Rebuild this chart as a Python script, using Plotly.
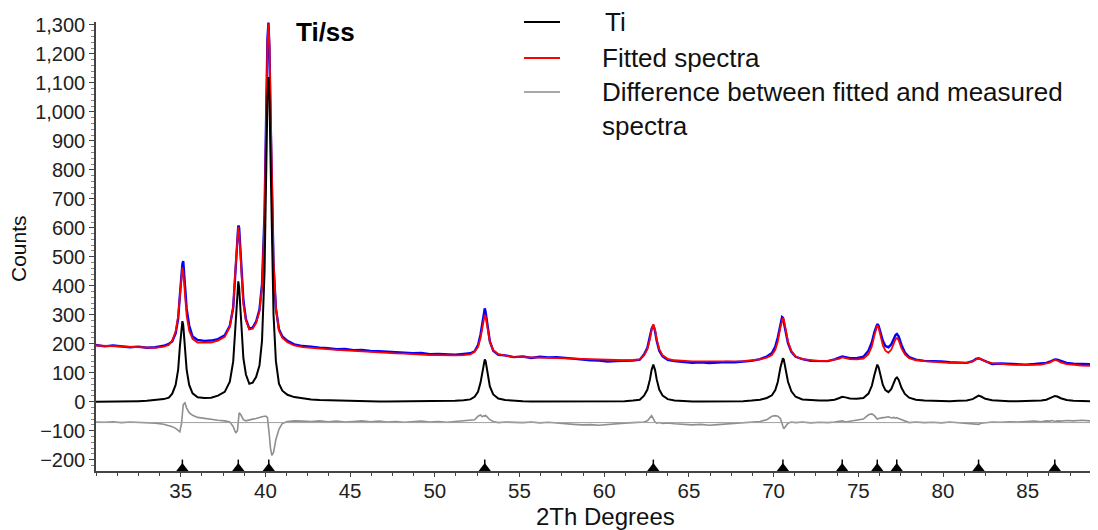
import plotly.graph_objects as go

# 2-theta grid (degrees), denser around the Ti reflections
two_theta = [
    30, 30.5, 31, 31.5, 32, 32.5, 33, 33.5, 34, 34.3,
    34.5, 34.7, 34.85, 34.95, 35.05, 35.1, 35.15, 35.25, 35.35, 35.5, 35.7, 36.0, 36.4, 36.8, 37.2,
    37.6, 37.9, 38.1, 38.25, 38.35, 38.4, 38.45, 38.55, 38.7, 38.85, 39.05, 39.25,
    39.45, 39.65, 39.8, 39.95, 40.05, 40.12, 40.18, 40.24, 40.3, 40.38, 40.48, 40.62, 40.8, 41.0, 41.3, 41.7, 42.2,
    42.7, 43.2, 43.7, 44.2, 44.7, 45.2, 45.7, 46.2, 46.7, 47.2, 47.7, 48.2, 48.7, 49.2, 49.7, 50.2, 50.7, 51.2, 51.7, 52.1,
    52.35, 52.55, 52.7, 52.8, 52.9, 52.95, 53.0, 53.1, 53.25, 53.45, 53.75, 54.15, 54.65,
    55.2, 55.7, 56.2, 56.7, 57.2, 57.7, 58.2, 58.7, 59.2, 59.7, 60.2, 60.7, 61.2, 61.7, 62.1,
    62.35, 62.55, 62.7, 62.8, 62.9, 63.0, 63.1, 63.25, 63.45, 63.75, 64.15, 64.65,
    65.2, 65.7, 66.2, 66.7, 67.2, 67.7, 68.2, 68.7, 69.2, 69.6,
    69.9, 70.1, 70.25, 70.4, 70.5, 70.55, 70.6, 70.7, 70.85, 71.05, 71.3, 71.7, 72.2, 72.7,
    73.2, 73.6, 73.85, 74.05, 74.25, 74.5, 74.9, 75.3,
    75.6, 75.8, 75.95, 76.05, 76.12, 76.2, 76.3, 76.45, 76.6, 76.78, 76.95, 77.1, 77.2, 77.28, 77.38, 77.55, 77.75, 78.0, 78.4, 78.9,
    79.4, 79.9, 80.4, 80.9, 81.4,
    81.75, 81.95, 82.1, 82.25, 82.5, 82.9,
    83.4, 83.9, 84.4, 84.9, 85.4, 85.8, 86.1,
    86.3, 86.45, 86.6, 86.75, 86.95, 87.3, 87.7,
    88.2, 88.7, 89.15,
]

ti_counts = [
    0, 0, 0, 0, 1, 2, 3, 5, 9, 14,
    28, 58, 111, 189, 264, 278, 264, 189, 111, 58, 29, 15, 13, 14, 21,
    34, 69, 139, 285, 394, 415, 395, 291, 150, 94, 62, 66,
    85, 125, 210, 450, 812, 1047, 1120, 1046, 850, 540, 300, 140, 62, 38, 24, 16, 11,
    8, 6, 5, 4, 3, 2, 2, 1, 1, 1, 1, 1, 1, 1, 1, 2, 2, 3, 5, 8,
    17, 34, 66, 102, 140, 146, 140, 102, 53, 25, 11, 6, 3,
    2, 1, 1, 1, 1, 1, 1, 1, 1, 1, 1, 2, 2, 4, 7,
    21, 42, 77, 110, 128, 110, 77, 42, 21, 9, 4, 2,
    1, 1, 1, 1, 1, 2, 2, 4, 7, 13,
    22, 40, 69, 117, 146, 150, 146, 117, 69, 36, 17, 8, 5, 4,
    4, 7, 12, 17, 15, 11, 10, 13,
    28, 55, 92, 120, 128, 119, 92, 58, 40, 33, 44, 66, 80, 84, 76, 48, 27, 14, 7, 4,
    3, 2, 2, 3, 4,
    9, 16, 21, 18, 10, 5,
    3, 2, 2, 2, 3, 4, 7,
    11, 16, 20, 18, 12, 6, 3,
    2, 1, 1,
]

fitted_counts = [
    194, 193, 192, 190, 189, 188, 187, 186, 190, 196,
    211, 242, 295, 374, 449, 463, 449, 375, 297, 245, 217, 204, 203, 204, 211,
    224, 258, 328, 473, 582, 603, 583, 479, 337, 281, 249, 252,
    271, 311, 395, 635, 997, 1232, 1305, 1231, 1034, 724, 484, 324, 245, 220, 205, 194, 188,
    186, 183, 181, 179, 177, 175, 174, 171, 170, 169, 167, 166, 164, 163, 161, 161, 160, 160, 161, 163,
    172, 189, 220, 256, 294, 300, 294, 256, 207, 178, 164, 159, 155,
    154, 152, 152, 151, 151, 150, 149, 148, 147, 146, 144, 144, 143, 144, 146,
    160, 181, 216, 249, 267, 249, 216, 181, 160, 148, 143, 140,
    139, 139, 139, 139, 139, 140, 140, 143, 146, 152,
    161, 179, 208, 256, 285, 289, 285, 256, 208, 175, 156, 147, 143, 141,
    141, 144, 148, 153, 151, 147, 146, 149,
    164, 191, 228, 256, 264, 255, 228, 194, 176, 169, 180, 202, 216, 220, 212, 184, 163, 150, 143, 140,
    139, 136, 134, 133, 134,
    139, 146, 151, 147, 139, 133,
    130, 128, 127, 126, 127, 128, 131,
    135, 140, 144, 142, 136, 130, 127,
    125, 124, 124,
]

measured_counts = [
    196, 191, 194, 192, 188, 190, 186, 188, 193, 200,
    208, 236, 286, 365, 445, 475, 485, 405, 322, 263, 225, 213, 210, 211, 216,
    229, 262, 325, 462, 578, 608, 600, 500, 350, 285, 252, 256,
    276, 318, 405, 648, 1012, 1250, 1308, 1218, 995, 690, 472, 322, 250, 225, 210, 198, 192,
    190, 186, 185, 181, 182, 178, 179, 175, 174, 172, 171, 170, 167, 168, 164, 165, 163, 162, 165, 167,
    174, 195, 232, 275, 315, 322, 310, 262, 208, 176, 162, 160, 154,
    156, 151, 155, 153, 154, 151, 147, 146, 143, 142, 139, 140, 140, 142, 145,
    163, 186, 222, 252, 264, 244, 210, 176, 156, 144, 140, 136,
    134, 136, 133, 135, 137, 136, 139, 141, 147, 156,
    168, 190, 222, 268, 292, 290, 278, 246, 202, 172, 155, 147, 141, 140,
    140, 146, 152, 156, 154, 150, 150, 155,
    176, 205, 240, 262, 268, 262, 240, 210, 192, 188, 198, 218, 230, 234, 226, 196, 170, 154, 145, 141,
    141, 139, 136, 135, 134,
    140, 148, 150, 146, 138, 130,
    132, 131, 130, 128, 130, 131, 134,
    138, 143, 146, 145, 140, 134, 131,
    130, 128, 129,
]

difference_counts = [
    -70, -71, -69, -72, -70, -71, -72, -74, -78, -82,
    -86, -92, -100, -104, -75, -35, -10, -4, -22, -38, -47, -54, -58, -62, -64,
    -66, -70, -86, -108, -100, -72, -38, -45, -62, -66, -62, -60,
    -58, -56, -52, -50, -50, -55, -80, -120, -160, -185, -175, -130, -95, -75, -68, -66, -67,
    -68, -66, -69, -67, -70, -68, -66, -69, -67, -70, -68, -71, -69, -67, -70, -68, -71, -69, -66, -64,
    -62, -50, -46, -52, -48, -50, -47, -53, -62, -68, -72, -70, -72,
    -72, -70, -73, -71, -74, -76, -78, -80, -79, -81, -78, -76, -74, -72, -70,
    -70, -66, -56, -48, -58, -70, -74, -72, -75, -73, -76, -78,
    -80, -78, -81, -79, -77, -75, -73, -70, -68, -62,
    -50, -48, -50, -58, -72, -85, -93, -84, -74, -70, -72, -70, -73, -71,
    -72, -70, -68, -66, -70, -68, -64, -60,
    -45, -42, -48, -55, -60, -58, -56, -55, -54, -52, -56, -54, -57, -55, -58, -62, -68, -72, -70, -72,
    -71, -73, -70, -72, -74,
    -75, -76, -78, -74, -72, -70,
    -71, -69, -70, -68, -67, -69, -66,
    -67, -65, -68, -66, -67, -65, -66,
    -64, -66, -65,
]

difference_zero = -72
ti_peak_positions = [35.1, 38.4, 40.2, 52.95, 62.9, 70.55, 74.05, 76.12, 77.27, 82.1, 86.6]
x_ticks = [35, 40, 45, 50, 55, 60, 65, 70, 75, 80, 85]

FONT = "Arial, Liberation Sans, sans-serif"
PAGE_OFFSET = 8  # the page body margin shifts the figure by 8px
W, H = 1098 - PAGE_OFFSET, 530 - PAGE_OFFSET
ML, MR, MT, MB = 96 - PAGE_OFFSET, 0, 22 - PAGE_OFFSET, 59
BLACK, RED, BLUE, GRAY = "#000000", "#ff0000", "#0000ff", "#8f8f8f"


def px(x):  # screen pixel -> paper x
    return (x - PAGE_OFFSET - ML) / (W - ML - MR)


def py(y):  # screen pixel -> paper y
    return (H - MB - (y - PAGE_OFFSET)) / (H - MT - MB)


def label(text, x, y, size, xanchor="center", color="#111", **kw):
    fig.add_annotation(text=text, x=px(x), y=py(y), xref="paper", yref="paper",
                       xanchor=xanchor, yanchor="middle", showarrow=False,
                       font=dict(size=size, color=color, family=FONT), **kw)


fig = go.Figure()
fig.add_trace(go.Scatter(x=two_theta, y=measured_counts, mode="lines", showlegend=False,
                         line=dict(color=BLUE, width=2.4)))
fig.add_trace(go.Scatter(x=two_theta, y=fitted_counts, mode="lines", showlegend=False,
                         line=dict(color=RED, width=1.8)))
fig.add_trace(go.Scatter(x=two_theta, y=ti_counts, mode="lines", showlegend=False,
                         line=dict(color=BLACK, width=2)))
fig.add_trace(go.Scatter(x=two_theta, y=difference_counts, mode="lines", showlegend=False,
                         line=dict(color=GRAY, width=1.6)))
fig.add_trace(go.Scatter(x=[two_theta[0], two_theta[-1]], y=[difference_zero] * 2, mode="lines",
                         showlegend=False, line=dict(color="#a0a0a0", width=1)))
# reflection markers sitting on the x axis
fig.add_trace(go.Scatter(x=ti_peak_positions, y=[-219] * len(ti_peak_positions), mode="markers",
                         showlegend=False, cliponaxis=False,
                         marker=dict(symbol="line-ns", size=8, line=dict(color=BLACK, width=1.5))))
fig.add_trace(go.Scatter(x=ti_peak_positions, y=[-230.5] * len(ti_peak_positions), mode="markers",
                         showlegend=False, cliponaxis=False,
                         marker=dict(symbol="triangle-up", size=11, color=BLACK, line=dict(width=0))))

# legend drawn by hand so it can sit above the plot area
legend_rows = [("Ti", BLACK, 22, 603), ("Fitted spectra", RED, 58, 600),
               ("Difference between fitted and measured", "#a8a8a8", 92, 600)]
for text, color, y, tx in legend_rows:
    fig.add_shape(type="line", xref="paper", yref="paper", x0=px(524), x1=px(560), y0=py(y), y1=py(y),
                  line=dict(color=color, width=2.2))
    label(text, tx, y, 26, xanchor="left")
label("spectra", 600, 126, 26, xanchor="left")

label("<b>Ti/ss</b>", 325, 32, 26, color=BLACK)
label("2Th Degrees", 605, 516, 24)
label("Counts", 18, 249, 21, textangle=-90)

fig.update_layout(
    width=W, height=H,
    margin=dict(l=ML, r=MR, t=MT, b=MB),
    plot_bgcolor="white", paper_bgcolor="white",
    font=dict(family=FONT, color="#222"),
    showlegend=False,
    xaxis=dict(range=[30, 89.15], tickvals=x_ticks, ticks="outside", ticklen=4, tickwidth=1.2,
               tickcolor="#444", showline=True, linecolor="#444", linewidth=1.5, showgrid=False,
               zeroline=False, tickfont=dict(size=20.5), automargin=False, ticklabelstandoff=-3,
               minor=dict(dtick=1.25, tick0=35, ticks="outside", ticklen=3, tickcolor="#444")),
    yaxis=dict(range=[-239, 1310], tick0=0, dtick=100, tickformat=",", ticks="outside", ticklen=5,
               tickwidth=1.2, tickcolor="#444", showline=True, linecolor="#444", linewidth=1.5,
               showgrid=False, zeroline=False, tickfont=dict(size=20), automargin=False,
               minor=dict(dtick=20, ticks="outside", ticklen=3, tickcolor="#888")),
)

fig.write_html("out.html")
